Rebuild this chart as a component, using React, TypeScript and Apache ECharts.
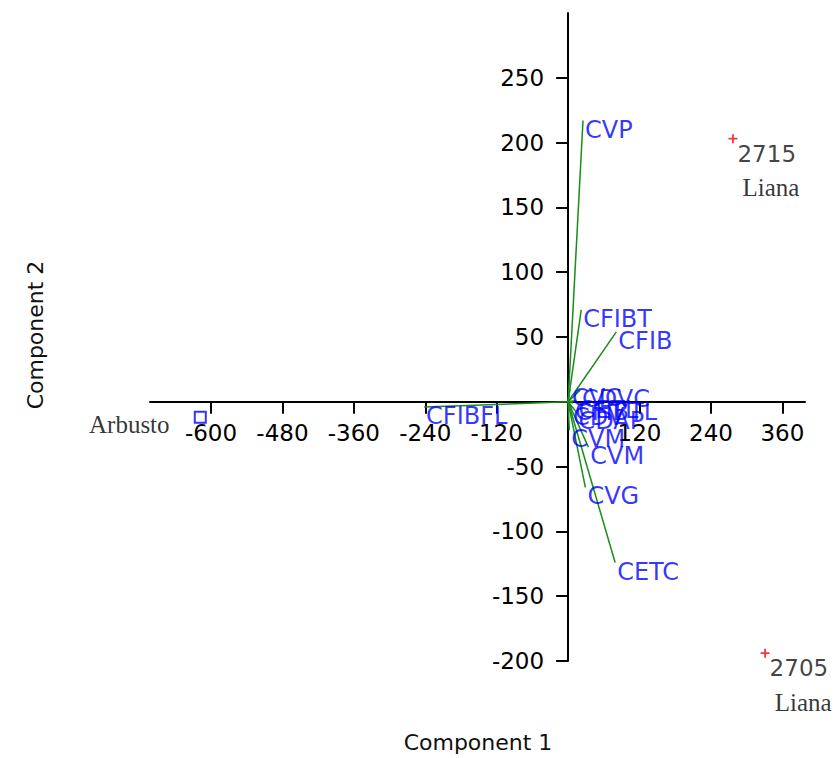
import React, { useEffect, useRef } from 'react';
import * as echarts from 'echarts';

// Axis ticks / labels
const xTickValues = [-600, -480, -360, -240, -120, 0, 120, 240, 360];
const xLabelValues = [-600, -480, -360, -240, -120, 120, 240, 360];
const yTickValues = [-200, -150, -100, -50, 0, 50, 100, 150, 200, 250];
const yLabelValues = [-200, -150, -100, -50, 50, 100, 150, 200, 250];

// Variable loadings (biplot vectors)
const vectorNames = ['CVP', 'CFIBT', 'CFIB', 'CFIBFL', 'CVC', 'CDVC', 'CETL', 'CFIBTL', 'CDV', 'CDAP', 'CVM', 'CVM', 'CVG', 'CETC'];
const vectorX = [25, 22, 81, -242, 3, 20, 14, 8, 5, 14, 2, 34, 29, 79];
const vectorY = [217, 71, 54, -4, 10, 9, 1, -1, -5, -8, -22, -35, -66, -124];

// Sample scores
const sampleNames = ['2715', '2705', ''];
const sampleX = [277, 331, -618];
const sampleY = [203, -194, -12];
const sampleGroups = ['Liana', 'Liana', 'Arbusto'];

const SANS = 'DejaVu Sans';
const SERIF = 'Liberation Serif';
const CROSS = 'path://M4,0H6V10H4ZM0,4H10V6H0Z';

const X_MIN = -702.5;
const X_MAX = 398;
const Y_MIN = -200;
const Y_MAX = 300;
const GRID = { left: 150, right: 30, top: 13, bottom: 97 };
const W = 835;
const H = 758;

export default function App() {
  const ref = useRef<HTMLDivElement>(null);
  useEffect(() => {
    if (!ref.current) return;
    const chart = echarts.init(ref.current, null, { renderer: 'svg' });
    const gw = W - GRID.left - GRID.right;
    const gh = H - GRID.top - GRID.bottom;
    // shift axes so that they cross at the origin (labels move with them)
    const xAxisOffset = -((0 - Y_MIN) / (Y_MAX - Y_MIN)) * gh;
    const yAxisOffset = -((0 - X_MIN) / (X_MAX - X_MIN)) * gw;
    const groupOffsets: Record<string, number[]> = { Liana: [38, 49], Arbusto: [-71, 7] };
    const option: any = {
      animation: false,
      backgroundColor: '#fff',
      grid: { ...GRID, containLabel: false },
      xAxis: {
        type: 'value',
        position: 'bottom',
        offset: xAxisOffset,
        min: X_MIN,
        max: X_MAX,
        axisLine: { onZero: false, lineStyle: { color: '#000', width: 2 } },
        axisTick: { show: true, length: 12, lineStyle: { color: '#000', width: 2 }, customValues: xTickValues },
        axisLabel: { customValues: xLabelValues, margin: 20, fontFamily: SANS, fontSize: 23, color: '#000' },
        splitLine: { show: false },
      },
      yAxis: {
        type: 'value',
        position: 'left',
        offset: yAxisOffset,
        min: Y_MIN,
        max: Y_MAX,
        axisLine: { onZero: false, lineStyle: { color: '#000', width: 2 } },
        axisTick: { show: true, length: 12, lineStyle: { color: '#000', width: 2 }, customValues: yTickValues },
        axisLabel: { customValues: yLabelValues, margin: 24, fontFamily: SANS, fontSize: 23, color: '#000' },
        splitLine: { show: false },
      },
      series: [
        {
          type: 'lines',
          coordinateSystem: 'cartesian2d',
          silent: true,
          lineStyle: { color: '#1a8c1a', width: 1.5, opacity: 1 },
          data: vectorNames.map((n, i) => ({ coords: [[0, 0], [vectorX[i], vectorY[i]]] })),
        },
        {
          type: 'scatter',
          symbolSize: 0,
          silent: true,
          data: vectorNames.map((n, i) => ({ name: n, value: [vectorX[i], vectorY[i]] })),
          label: {
            show: true,
            position: [0, 0],
            align: 'left',
            verticalAlign: 'top',
            offset: [2, -3],
            formatter: (p: any) => p.name,
            color: '#0000ff',
            fontFamily: SANS,
            fontSize: 24,
          },
        },
        {
          type: 'scatter',
          symbol: CROSS,
          symbolSize: 9,
          silent: true,
          itemStyle: { color: '#ff0000' },
          data: sampleNames.map((n, i) =>
            n
              ? { name: n, value: [sampleX[i], sampleY[i]] }
              : {
                  name: n,
                  value: [sampleX[i], sampleY[i]],
                  symbol: 'emptyRect',
                  symbolSize: [11, 11],
                  itemStyle: { color: '#0000ff', borderColor: '#0000ff', borderWidth: 2 },
                }
          ),
          label: {
            show: true,
            position: [9, 8],
            align: 'left',
            verticalAlign: 'top',
            formatter: (p: any) => p.name,
            color: '#111',
            fontFamily: SANS,
            fontSize: 23,
          },
        },
        {
          type: 'scatter',
          symbolSize: 0,
          silent: true,
          data: sampleGroups.map((g, i) => ({
            name: g,
            value: [sampleX[i], sampleY[i]],
            label: { offset: groupOffsets[g] },
          })),
          label: {
            show: true,
            position: [0, 0],
            align: 'center',
            verticalAlign: 'middle',
            formatter: (p: any) => p.name,
            color: '#000',
            fontFamily: SERIF,
            fontSize: 25,
          },
        },
      ],
      graphic: [
        {
          type: 'text',
          x: 478,
          y: 742,
          style: { text: 'Component 1', fill: '#111', font: `22px "${SANS}"`, align: 'center', verticalAlign: 'middle' },
        },
        {
          type: 'text',
          x: 35,
          y: 335,
          rotation: Math.PI / 2,
          style: { text: 'Component 2', fill: '#111', font: `22px "${SANS}"`, align: 'center', verticalAlign: 'middle' },
        },
      ],
    };
    chart.setOption(option);
    return () => chart.dispose();
  }, []);
  return <div ref={ref} style={{ position: 'fixed', left: 0, top: 0, width: W, height: H }} />;
}
